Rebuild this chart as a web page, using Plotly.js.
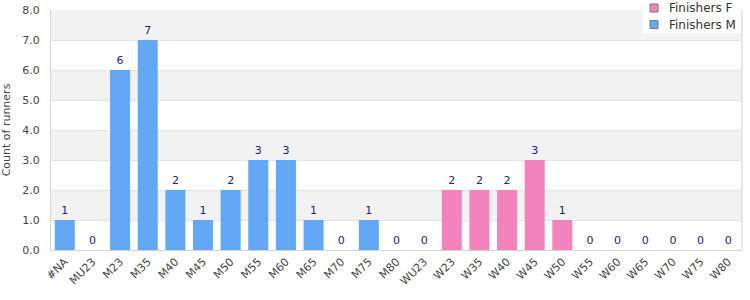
<!DOCTYPE html>
<html><head><meta charset="utf-8">
<script src="https://cdn.plot.ly/plotly-3.0.1.min.js"></script>
<style>body{margin:0;}#c{width:750px;height:300px;}</style>
</head><body><div id="c"></div>
<script>
const categories = ["#NA","MU23","M23","M35","M40","M45","M50","M55","M60","M65","M70","M75","M80",
  "WU23","W23","W35","W40","W45","W50","W55","W60","W65","W70","W75","W80"];
const maleCats = ["#NA","MU23","M23","M35","M40","M45","M50","M55","M60","M65","M70","M75","M80"];
const maleVals = [1,0,6,7,2,1,2,3,3,1,0,1,0];
const femaleCats = ["WU23","W23","W35","W40","W45","W50","W55","W60","W65","W70","W75","W80"];
const femaleVals = [0,2,2,2,3,1,0,0,0,0,0,0];
const seriesNames = ["Finishers F","Finishers M"];
const seriesColors = ["#f383bd","#62a8f5"];

const L = 51, R = 8, T = 10, B = 50, W = 750, H = 300;
const pw = W - L - R, ph = H - T - B;
const px = v => (v - L) / pw;          // canvas x -> paper x
const py = v => (H - B - v) / ph;      // canvas y -> paper y

const shapes = [];
for (let b = 1; b < 8; b += 2) {
  shapes.push({type:'rect', xref:'paper', yref:'y', x0:0, x1:1, y0:b, y1:b+1,
    fillcolor:'#f2f2f2', line:{width:0}, layer:'below'});
}
shapes.push({type:'line', xref:'paper', yref:'paper', x0:1, x1:1, y0:0, y1:1,
  line:{color:'#d4d4d4', width:1}, layer:'below'});
// legend box
shapes.push({type:'rect', xref:'paper', yref:'paper', x0:px(643), x1:px(741), y0:py(33), y1:py(0),
  fillcolor:'#ffffff', line:{width:0}, layer:'above'});
const annotations = [];
seriesNames.forEach((n, i) => {
  const cy = 8 + i * 16.5;
  shapes.push({type:'rect', xref:'paper', yref:'paper', x0:px(650), x1:px(658), y0:py(cy+4), y1:py(cy-4),
    fillcolor:seriesColors[i], line:{color:'#777', width:1}, layer:'above'});
  annotations.push({xref:'paper', yref:'paper', x:px(667), y:py(cy), xanchor:'left', yanchor:'middle',
    text:n, showarrow:false, font:{family:'DejaVu Sans', size:12, color:'#333'}});
});

const txtFont = {family:'DejaVu Sans', size:11, color:'#1a237e'};
const traces = [
  {type:'bar', name:seriesNames[0], x:femaleCats, y:femaleVals, text:femaleVals.map(String),
   textposition:'outside', textfont:txtFont, outsidetextfont:txtFont, cliponaxis:false,
   marker:{color:seriesColors[0]}},
  {type:'bar', name:seriesNames[1], x:maleCats, y:maleVals, text:maleVals.map(String),
   textposition:'outside', textfont:txtFont, outsidetextfont:txtFont, cliponaxis:false,
   marker:{color:seriesColors[1]}}
];
const layout = {
  width:W, height:H,
  margin:{l:L, r:R, t:T, b:B},
  paper_bgcolor:'#fff', plot_bgcolor:'#fff',
  font:{family:'DejaVu Sans', size:11, color:'#444'},
  barmode:'overlay', bargap:0.275,
  showlegend:false,
  xaxis:{type:'category', categoryorder:'array', categoryarray:categories,
    tickangle:-45, showline:true, linecolor:'#d4d4d4',
    tickfont:{size:11, color:'#444'}, ticks:''},
  yaxis:{range:[0,8], dtick:1, tickformat:'.1f', showline:true, linecolor:'#d4d4d4',
    gridcolor:'#e2e2e2', zeroline:false, tickfont:{size:11, color:'#444'},
    ticks:'outside', ticklen:8, tickcolor:'rgba(0,0,0,0)',
    title:{text:'Count of runners', font:{size:11, color:'#444'}, standoff:10}},
  shapes: shapes,
  annotations: annotations
};
Plotly.newPlot('c', traces, layout, {displayModeBar:false});
</script></body></html>
